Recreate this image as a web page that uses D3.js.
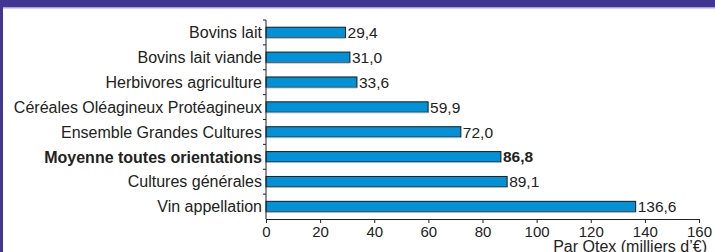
<!DOCTYPE html>
<html>
<head>
<meta charset="utf-8">
<script src="https://cdn.jsdelivr.net/npm/d3@7"></script>
<style>
  body { margin: 0; background: #fff; }
  svg { display: block; font-family: "Liberation Sans", Arial, sans-serif; }
</style>
</head>
<body>
<div id="chart"></div>
<script>
const categories = [
  'Bovins lait',
  'Bovins lait viande',
  'Herbivores agriculture',
  'Céréales Oléagineux Protéagineux',
  'Ensemble Grandes Cultures',
  'Moyenne toutes orientations',
  'Cultures générales',
  'Vin appellation'
]
const values = [29.4, 31.0, 33.6, 59.9, 72.0, 86.8, 89.1, 136.6]
const xTicks = [0, 20, 40, 60, 80, 100, 120, 140, 160]
const highlighted = 'Moyenne toutes orientations'
const xTitle = 'Par Otex (milliers d\u2019€)'

const width = 715
const height = 252
const margin = { top: 20, right: 16, bottom: 33, left: 266 }

const svg = d3.select('#chart')
  .append('svg')
  .attr('width', width)
  .attr('height', height)

// frame: purple header band + left border
svg.append('rect').attr('x', 0).attr('y', 0).attr('width', width).attr('height', 7).attr('fill', '#433692')
svg.append('rect').attr('x', 0).attr('y', 7).attr('width', width).attr('height', 1.5).attr('fill', '#a9a3cf')
svg.append('rect').attr('x', 0).attr('y', 0).attr('width', 3).attr('height', height).attr('fill', '#433692')

const x = d3.scaleLinear()
  .domain([0, 160])
  .range([margin.left, width - margin.right])

const y = d3.scaleBand()
  .domain(categories)
  .range([margin.top, height - margin.bottom])
  .paddingInner(0.58)
  .paddingOuter(0.29)

const data = categories.map((c, i) => ({ key: c, value: values[i] }))

const bars = svg.append('g').classed('bars', true)
  .selectAll('g')
  .data(data)
  .enter()
  .append('g')

bars.append('rect')
  .attr('x', x(0))
  .attr('y', d => y(d.key))
  .attr('width', d => x(d.value) - x(0))
  .attr('height', y.bandwidth())
  .attr('fill', '#0091d7')
  .attr('stroke', '#1a1a1a')
  .attr('stroke-width', 1)

// light shadow line under each bar
bars.append('line')
  .attr('x1', x(0))
  .attr('x2', d => x(d.value))
  .attr('y1', d => y(d.key) + y.bandwidth() + 0.5)
  .attr('y2', d => y(d.key) + y.bandwidth() + 0.5)
  .attr('stroke', '#b5b5b5')
  .attr('stroke-width', 1)

bars.append('text')
  .attr('x', d => x(d.value) + 2)
  .attr('y', d => y(d.key) + y.bandwidth() / 2)
  .attr('dy', '0.36em')
  .attr('font-size', 15.5)
  .attr('fill', '#222')
  .attr('font-weight', d => d.key === highlighted ? 'bold' : 'normal')
  .text(d => d3.format('.1f')(d.value).replace('.', ','))

// y axis: line plus ticks at band boundaries
const yAxis = svg.append('g').classed('y-axis', true)
const step = y.step()
const y0 = margin.top
yAxis.append('line')
  .attr('x1', x(0)).attr('x2', x(0))
  .attr('y1', y0).attr('y2', height - margin.bottom)
  .attr('stroke', '#222')
yAxis.selectAll('.tick')
  .data(d3.range(categories.length))
  .enter()
  .append('line')
  .attr('x1', x(0) - 3).attr('x2', x(0))
  .attr('y1', i => y0 + i * step)
  .attr('y2', i => y0 + i * step)
  .attr('stroke', '#222')
yAxis.selectAll('text')
  .data(categories)
  .enter()
  .append('text')
  .attr('x', x(0) - 4)
  .attr('y', d => y(d) + y.bandwidth() / 2)
  .attr('dy', '0.36em')
  .attr('text-anchor', 'end')
  .attr('font-size', 16)
  .attr('fill', '#222')
  .attr('font-weight', d => d === highlighted ? 'bold' : 'normal')
  .text(d => d)

// x axis
const xAxis = d3.axisBottom(x)
  .tickValues(xTicks)
  .tickSize(4)
  .tickSizeOuter(0)
  .tickFormat(d3.format('d'))

const xg = svg.append('g')
  .classed('x-axis', true)
  .attr('transform', `translate(0, ${height - margin.bottom})`)
  .call(xAxis)
xg.select('.domain').attr('stroke', '#222')
xg.selectAll('.tick line').attr('stroke', '#222')
xg.selectAll('.tick text')
  .attr('font-family', '"Liberation Sans", Arial, sans-serif')
  .attr('font-size', 15)
  .attr('fill', '#222')
  .attr('dy', null)
  .attr('y', 18)

svg.append('text')
  .attr('x', width - 8)
  .attr('y', height)
  .attr('text-anchor', 'end')
  .attr('font-size', 16)
  .attr('fill', '#222')
  .text(xTitle)
</script>
</body>
</html>
